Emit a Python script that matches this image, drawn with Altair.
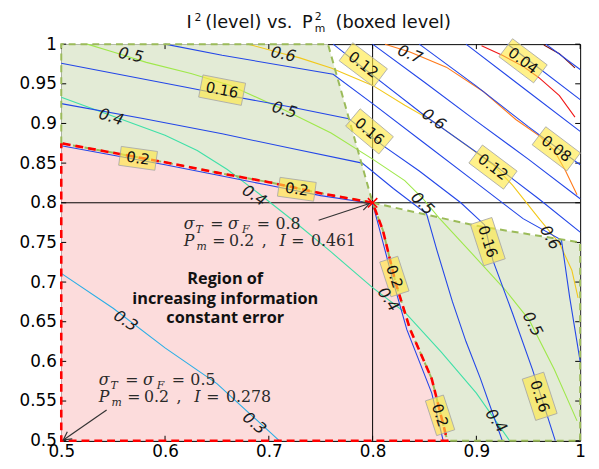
import altair as alt
import pandas as pd

# ---------------- values ----------------
X_TICKS = [0.5, 0.6, 0.7, 0.8, 0.9, 1.0]
Y_TICKS = [0.5, 0.55, 0.6, 0.65, 0.7, 0.75, 0.8, 0.85, 0.9, 0.95, 1.0]

# region of increasing information / constant error (pink)
PINK_X = [0.5, 0.55, 0.6, 0.65, 0.7, 0.75, 0.8, 0.81, 0.822, 0.836, 0.857, 0.872]
PINK_TOP = [0.875, 0.863, 0.851, 0.838, 0.826, 0.812, 0.8, 0.765, 0.70, 0.641, 0.578, 0.5]
PINK_BOT = [0.5, 0.5, 0.5, 0.5, 0.5, 0.5, 0.5, 0.5, 0.5, 0.5, 0.5, 0.5]

# upper-left green region
UL_X = [0.5, 0.55, 0.6, 0.65, 0.7, 0.75, 0.757, 0.78, 0.8]
UL_TOP = [1.0, 1.0, 1.0, 1.0, 1.0, 1.0, 1.0, 0.893, 0.8]
UL_BOT = [0.875, 0.863, 0.851, 0.838, 0.826, 0.812, 0.810, 0.805, 0.8]

# lower-right green region
LR_X = [0.8, 0.81, 0.822, 0.836, 0.857, 0.872, 0.9, 0.95, 1.0]
LR_TOP = [0.8, 0.797, 0.793, 0.789, 0.783, 0.779, 0.771, 0.76, 0.75]
LR_BOT = [0.8, 0.765, 0.70, 0.641, 0.578, 0.5, 0.5, 0.5, 0.5]

# dashed borders
GREEN_EDGES = {
    "ul": ([0.5, 0.5, 0.757, 0.8], [0.875, 1.0, 1.0, 0.8]),
    "lr": ([0.8, 0.9, 1.0, 1.0, 0.872], [0.8, 0.771, 0.75, 0.5, 0.5]),
    "mid": (PINK_X, PINK_TOP),
}
RED_EDGE_X = [0.5, 0.5] + PINK_X[::-1] + [0.5]
RED_EDGE_Y = [0.875, 0.5] + [0.5] + PINK_TOP[::-1][1:] + [0.875]

# I^2 contour levels
I2_LEVELS = ["0.3", "0.4", "0.5", "0.6", "0.7", "0.8", "0.9"]
I2_COLORS = ["#29aee6", "#3fe0a8", "#9fe84a", "#f2c81a", "#ff7a1a", "#f01818", "#7a1010"]
I2_X = {
    "0.3": [0.5, 0.55, 0.6, 0.65, 0.71],
    "0.4": [0.5, 0.548, 0.6, 0.631, 0.66, 0.69, 0.723, 0.76, 0.8, 0.831, 0.866, 0.9, 0.932],
    "0.5": [0.525, 0.55, 0.582, 0.625, 0.663, 0.715, 0.76, 0.8, 0.831, 0.848, 0.864, 0.9, 0.928, 0.951, 0.975, 0.997],
    "0.6": [0.68, 0.714, 0.729, 0.76, 0.8, 0.831, 0.859, 0.894, 0.916, 0.935, 0.961, 0.98, 0.992, 0.998],
    "0.7": [0.812, 0.836, 0.871, 0.907, 0.938, 0.961, 0.975, 0.986, 0.997],
    "0.8": [0.905, 0.925, 0.945, 0.96, 0.98, 0.995],
    "0.9": [0.965, 0.98, 0.995],
}
I2_Y = {
    "0.3": [0.711, 0.667, 0.617, 0.572, 0.5],
    "0.4": [0.933, 0.91, 0.885, 0.866, 0.842, 0.812, 0.778, 0.738, 0.693, 0.662, 0.612, 0.56, 0.5],
    "0.5": [1.0, 0.99, 0.977, 0.963, 0.948, 0.917, 0.888, 0.855, 0.828, 0.806, 0.781, 0.73, 0.69, 0.652, 0.59, 0.525],
    "0.6": [1.0, 0.988, 0.983, 0.97, 0.948, 0.923, 0.902, 0.869, 0.848, 0.822, 0.779, 0.749, 0.715, 0.68],
    "0.7": [1.0, 0.99, 0.971, 0.94, 0.905, 0.884, 0.866, 0.84, 0.81],
    "0.8": [0.998, 0.986, 0.972, 0.958, 0.935, 0.908],
    "0.9": [0.999, 0.988, 0.97],
}

# P_m^2 contour levels (blue)
P2_NAMES = ["0.2u", "0.2l", "0.18", "0.16", "0.14", "0.12", "0.10", "0.08", "0.06", "0.04", "0.02"]
P2_X = {
    "0.2u": [0.5, 0.55, 0.6, 0.65, 0.7, 0.75, 0.8],
    "0.2l": [0.8, 0.806, 0.814, 0.82, 0.833, 0.845, 0.857, 0.868],
    "0.18": [0.5, 0.58, 0.655, 0.72, 0.79, 0.82, 0.852, 0.862, 0.877, 0.89, 0.904, 0.925],
    "0.16": [0.5, 0.619, 0.662, 0.72, 0.777, 0.81, 0.845, 0.885, 0.908, 0.916, 0.935, 0.954, 0.976],
    "0.14": [0.6, 0.655, 0.762, 0.8, 0.85, 0.9, 0.945, 0.982, 0.99, 1.0],
    "0.12": [0.762, 0.79, 0.85, 0.916, 0.96, 1.0],
    "0.10": [0.8, 0.85, 0.9, 0.95, 1.0],
    "0.08": [0.845, 0.9, 0.95, 0.98, 1.0],
    "0.06": [0.89, 0.95, 1.0],
    "0.04": [0.93, 0.945, 1.0],
    "0.02": [0.967, 1.0],
}
P2_Y = {
    "0.2u": [0.872, 0.86, 0.848, 0.835, 0.822, 0.809, 0.799],
    "0.2l": [0.799, 0.77, 0.73, 0.70, 0.64, 0.60, 0.56, 0.5],
    "0.18": [0.925, 0.906, 0.887, 0.869, 0.85, 0.818, 0.786, 0.74, 0.675, 0.625, 0.578, 0.5],
    "0.16": [0.976, 0.946, 0.935, 0.921, 0.906, 0.872, 0.84, 0.8, 0.772, 0.727, 0.66, 0.59, 0.5],
    "0.14": [1.0, 0.986, 0.962, 0.925, 0.875, 0.825, 0.78, 0.753, 0.68, 0.6],
    "0.12": [1.0, 0.971, 0.91, 0.849, 0.805, 0.763],
    "0.10": [1.0, 0.952, 0.903, 0.855, 0.805],
    "0.08": [1.0, 0.947, 0.896, 0.867, 0.848],
    "0.06": [1.0, 0.94, 0.89],
    "0.04": [1.0, 0.985, 0.93],
    "0.02": [1.0, 0.968],
}
P2_COLOR = "#2346e8"

# boxed P_m^2 labels
BOX_TEXT = ["0.16", "0.2", "0.2", "0.12", "0.16", "0.04", "0.08", "0.12", "0.16", "0.16", "0.2", "0.2"]
BOX_X = [0.655, 0.574, 0.727, 0.791, 0.797, 0.945, 0.977, 0.916, 0.911, 0.961, 0.821, 0.865]
BOX_Y = [0.942, 0.856, 0.817, 0.974, 0.89, 0.979, 0.868, 0.845, 0.751, 0.556, 0.707, 0.532]
BOX_ANGLE = [11, 8, 8, 37, 40, 37, 37, 37, 72, 72, 72, 72]

# plain I^2 labels
LAB_TEXT = ["0.5", "0.4", "0.6", "0.5", "0.7", "0.6", "0.4", "0.5", "0.6", "0.4", "0.5", "0.4", "0.3", "0.3"]
LAB_X = [0.567, 0.548, 0.714, 0.715, 0.836, 0.859, 0.686, 0.848, 0.971, 0.815, 0.954, 0.919, 0.562, 0.686]
LAB_Y = [0.986, 0.908, 0.987, 0.917, 0.987, 0.905, 0.809, 0.799, 0.756, 0.678, 0.647, 0.525, 0.651, 0.522]
LAB_ANGLE = [12, 18, 12, 16, 22, 35, 33, 45, 60, 55, 62, 55, 33, 40]

# operating points
PT_X = [0.8, 0.5]
PT_Y = [0.8, 0.5]
PT_SIGMA = ["0.8", "0.5"]
PT_PM = ["0.2", "0.2"]
PT_I = ["0.461", "0.278"]
ANN_X = [0.618, 0.536]       # annotation anchors (first baseline)
ANN_Y = [0.7665, 0.5697]
ARROW_TAIL_X = [0.748, 0.5437]
ARROW_TAIL_Y = [0.778, 0.5386]
ARROW_HEAD_X = [0.797, 0.502]
ARROW_HEAD_Y = [0.799, 0.501]
ARROW_ANGLE = [342, 145]

REGION_LINES = ["Region of", "increasing information", "constant error"]
REGION_X = 0.658
REGION_Y = [0.704, 0.679, 0.654]

# ---------------- layout ----------------
W, H = 526, 402
KX = W / 0.5
KY = H / 0.5
TICK_PX = 5


def px_to_x(px):
    return 0.5 + (px - 62) / KX


def py_to_y(py):
    return 1.0 - (py - 41.5) / KY


XS = alt.Scale(domain=[0.5, 1.0], nice=False, zero=False)
YS = alt.Scale(domain=[0.5, 1.0], nice=False, zero=False)
XAX = alt.Axis(values=X_TICKS, format="~g", grid=False, ticks=False, tickSize=0,
               labelPadding=3, labelFont="DejaVu Sans", labelFontSize=17,
               labelColor="black", domainColor="black", labelFlush=False, labelOverlap=False)
YAX = alt.Axis(values=Y_TICKS, format="~g", grid=False, ticks=False, tickSize=0,
               labelPadding=5, labelFont="DejaVu Sans", labelFontSize=17,
               labelColor="black", domainColor="black", labelFlush=False, labelOverlap=False)


def X(f="x"):
    return alt.X(f"{f}:Q", scale=XS, axis=XAX, title=None)


def Y(f="y"):
    return alt.Y(f"{f}:Q", scale=YS, axis=YAX, title=None)


def rows(name, xs, ys):
    return [{"series": name, "i": i, "x": a, "y": b} for i, (a, b) in enumerate(zip(xs, ys))]


layers = []

# region fills
for xs, top, bot, col in [(PINK_X, PINK_TOP, PINK_BOT, "#fcdcdc"),
                          (UL_X, UL_TOP, UL_BOT, "#e3ebd6"),
                          (LR_X, LR_TOP, LR_BOT, "#e3ebd6")]:
    df = pd.DataFrame({"x": xs, "y": top, "y2": bot})
    layers.append(alt.Chart(df).mark_area(color=col, opacity=1).encode(
        x=X(), y=Y(), y2=alt.Y2("y2:Q")))

# black reference lines at 0.8
cross = pd.DataFrame(rows("h", [0.5, 1.0], [0.8, 0.8]) + rows("v", [0.8, 0.8], [0.5, 1.0]))
layers.append(alt.Chart(cross).mark_line(color="black", strokeWidth=1).encode(
    x=X(), y=Y(), detail="series:N", order="i:Q"))

# inward tick marks on all four sides (MATLAB style)
trow = []
for v in Y_TICKS:
    trow += rows(f"yl{v}", [0.5, 0.5 + TICK_PX / KX], [v, v])
    trow += rows(f"yr{v}", [1.0, 1.0 - TICK_PX / KX], [v, v])
for v in X_TICKS:
    trow += rows(f"xb{v}", [v, v], [0.5, 0.5 + TICK_PX / KY])
    trow += rows(f"xt{v}", [v, v], [1.0, 1.0 - TICK_PX / KY])
layers.append(alt.Chart(pd.DataFrame(trow)).mark_line(color="black", strokeWidth=1).encode(
    x=X(), y=Y(), detail="series:N", order="i:Q"))

# contour lines
crow = []
for lv in I2_LEVELS:
    crow += rows("I" + lv, I2_X[lv], I2_Y[lv])
for nm in P2_NAMES:
    crow += rows("P" + nm, P2_X[nm], P2_Y[nm])
cdf = pd.DataFrame(crow)
dom = ["I" + lv for lv in I2_LEVELS] + ["P" + nm for nm in P2_NAMES]
rng = I2_COLORS + [P2_COLOR] * len(P2_NAMES)
layers.append(alt.Chart(cdf).mark_line(strokeWidth=1.1).encode(
    x=X(), y=Y(), order="i:Q",
    color=alt.Color("series:N", scale=alt.Scale(domain=dom, range=rng), legend=None)))

# dashed borders
grow = []
for k, (xs, ys) in GREEN_EDGES.items():
    grow += rows(k, xs, ys)
layers.append(alt.Chart(pd.DataFrame(grow)).mark_line(
    color="#9bbb59", strokeWidth=2, strokeDash=[7, 5]).encode(
    x=X(), y=Y(), detail="series:N", order="i:Q"))
layers.append(alt.Chart(pd.DataFrame(rows("red", RED_EDGE_X, RED_EDGE_Y))).mark_line(
    color="#ff0000", strokeWidth=2.6, strokeDash=[8, 5], strokeDashOffset=3).encode(
    x=X(), y=Y(), order="i:Q"))

# boxed labels
bdf = pd.DataFrame({"x": BOX_X, "y": BOX_Y, "t": BOX_TEXT, "a": BOX_ANGLE})
bdf["s"] = [(7 * len(t) + 16) ** 2 for t in BOX_TEXT]
box_path = "M-1,-0.52L1,-0.52L1,0.52L-1,0.52Z"
layers.append(alt.Chart(bdf).mark_point(
    shape=box_path, filled=True, fill="#ffe840", fillOpacity=0.62, opacity=1,
    stroke="#a8a8a8", strokeWidth=0.8).encode(
    x=X(), y=Y(), angle=alt.Angle("a:Q", scale=None), size=alt.Size("s:Q", scale=None)))
layers.append(alt.Chart(bdf).mark_text(
    font="DejaVu Sans", fontSize=15, color="#111111", align="center", baseline="middle").encode(
    x=X(), y=Y(), text="t:N", angle=alt.Angle("a:Q", scale=None)))

# plain level labels
ldf = pd.DataFrame({"x": LAB_X, "y": LAB_Y, "t": LAB_TEXT, "a": LAB_ANGLE})
layers.append(alt.Chart(ldf).mark_text(
    font="DejaVu Sans", fontStyle="italic", fontSize=16, color="#1a1a1a",
    align="center", baseline="middle").encode(
    x=X(), y=Y(), text="t:N", angle=alt.Angle("a:Q", scale=None)))

# region caption
rdf = pd.DataFrame({"x": [REGION_X] * 3, "y": REGION_Y, "t": REGION_LINES})
layers.append(alt.Chart(rdf).mark_text(
    font="Open Sans", fontWeight="bold", fontSize=16.5, color="#111111",
    align="center", baseline="middle").encode(x=X(), y=Y(), text="t:N"))

# annotation pieces (text, dx px, dy px, size, italic)
ann_rows = []
for k in range(2):
    pieces = [("σ", 0, 0, 16, True), ("T", 12, 4, 11, True), ("=", 27, 0, 16, False),
              ("σ", 45, 0, 16, True), ("F", 59, 4, 11, True), ("=", 74, 0, 16, False),
              (PT_SIGMA[k], 93, 0, 16, False),
              ("P", 0, 17, 16, True), ("m", 13, 21, 11, True), ("=", 29, 17, 16, False),
              (PT_PM[k], 46, 17, 16, False), (",", 79, 17, 16, False), ("I", 97, 17, 16, True),
              ("=", 109, 17, 16, False), (PT_I[k], 129, 17, 16, False)]
    for t, ddx, ddy, sz, it in pieces:
        ann_rows.append({"t": t, "x": ANN_X[k] + ddx / KX, "y": ANN_Y[k] - ddy / KY,
                         "s": sz, "it": it})
adf = pd.DataFrame(ann_rows)
for it, style in [(True, "italic"), (False, "normal")]:
    layers.append(alt.Chart(adf[adf["it"] == it]).mark_text(
        font="DejaVu Serif", fontStyle=style, color="#2a2a2a", align="left",
        baseline="alphabetic").encode(
        x=X(), y=Y(), text="t:N", size=alt.Size("s:Q", scale=None)))

# arrows
arow = []
for k in range(2):
    arow += rows(f"a{k}", [ARROW_TAIL_X[k], ARROW_HEAD_X[k]], [ARROW_TAIL_Y[k], ARROW_HEAD_Y[k]])
layers.append(alt.Chart(pd.DataFrame(arow)).mark_line(color="#333333", strokeWidth=1.2).encode(
    x=X(), y=Y(), detail="series:N", order="i:Q"))
hdf = pd.DataFrame({"x": ARROW_HEAD_X, "y": ARROW_HEAD_Y, "a": ARROW_ANGLE})
layers.append(alt.Chart(hdf).mark_point(
    shape="M-1,-0.55L0,0L-1,0.55", filled=False, stroke="#333333", strokeWidth=1.2,
    size=256, opacity=1).encode(x=X(), y=Y(), angle=alt.Angle("a:Q", scale=None)))

# red cross at (0.8, 0.8)
xdf = pd.DataFrame({"x": PT_X[:1], "y": PT_Y[:1]})
layers.append(alt.Chart(xdf).mark_point(
    shape="M-1,-1L1,1M-1,1L1,-1", filled=False, stroke="#ff0000", strokeWidth=1.6,
    size=90, opacity=1).encode(x=X(), y=Y()))

# title pieces (text, px, baseline py, size)
title_pieces = [("I", 189, 25, 18), ("2", 197, 18, 11), ("(level) vs.", 208, 25, 18),
                ("P", 306, 25, 18), ("2", 319, 17, 11), ("m", 319, 29, 11),
                ("(boxed level)", 340, 25, 18)]
tdf = pd.DataFrame([{"t": t, "x": px_to_x(px), "y": py_to_y(py), "s": s}
                    for t, px, py, s in title_pieces])
layers.append(alt.Chart(tdf).mark_text(
    font="DejaVu Sans", color="#111111", align="left", baseline="alphabetic").encode(
    x=X(), y=Y(), text="t:N", size=alt.Size("s:Q", scale=None)))

chart = alt.layer(*layers).properties(
    width=W, height=H,
    autosize=alt.AutoSizeParams(type="none"),
    padding={"left": 54, "top": 33.5, "right": 11, "bottom": 22},
    background="white",
).configure_view(stroke="black", strokeWidth=1)

chart.save("out.html", embed_options={"renderer": "svg", "actions": False})
